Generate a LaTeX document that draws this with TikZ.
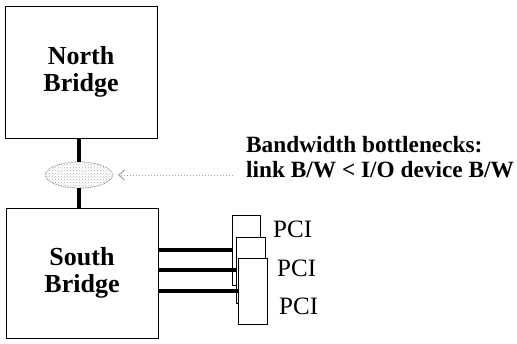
\documentclass[tikz,border=0pt]{standalone}
\usepackage{fontspec}
\setmainfont{Liberation Serif}
\usetikzlibrary{positioning,shapes.geometric,arrows.meta,patterns}
\begin{document}
\begin{tikzpicture}[x=1pt, y=-1pt,
  bridge/.style={draw, rectangle, line width=1pt, minimum width=152pt, minimum height=132pt, align=center, font=\fontsize{26}{27}\selectfont\bfseries},
  bus/.style={line width=3.5pt},
  card/.style={draw, rectangle, fill=white, line width=0.8pt, minimum width=29pt, minimum height=66pt, inner sep=0pt},
  pcitext/.style={anchor=west, inner sep=0pt, font=\fontsize{25}{25}\selectfont}]
  \useasboundingbox (0,0) rectangle (517,343);
  \node[bridge] (nb) at (81,72) {North\\Bridge};
  \node[bridge, minimum height=130pt] (sb) at (82,273) {South\\Bridge};
  \node[ellipse, draw=gray, densely dotted, line width=0.8pt, pattern=crosshatch dots, pattern color=gray!60, minimum width=67pt, minimum height=26pt, inner sep=0pt] (link) at (79,175) {};
  \node[anchor=west, align=left, inner sep=0pt, font=\fontsize{23.3}{25}\selectfont\bfseries] (note) at (246,157.5) {Bandwidth bottlenecks:\\link B/W < I/O device B/W};

  \draw[bus] (nb.south -| link.north) -- (link.north);
  \draw[bus] (link.south) -- (link.south |- sb.north);
  \draw[gray!70, dotted, line width=1pt, shorten <=13pt, shorten >=5pt, -{Straight Barb[length=6pt, width=10pt]}] (note.west |- link.east) -- (link.east);

  % PCI cards
  \node[card, minimum width=28pt, minimum height=70pt] (card1) at (246,250) {};
  \node[card] (card2) at (250.5,270) {};
  \node[card] (card3) at (252.5,291) {};
  \node[pcitext] (pci1) at (273,229) {PCI};
  \node[pcitext] (pci2) at (277,268) {PCI};
  \node[pcitext] (pci3) at (279,306) {PCI};

  \draw[bus] (sb.east |- card1.west) -- (card1.west);
  \draw[bus] (sb.east |- card2.west) -- (card2.west);
  \draw[bus] (sb.east |- card3.west) -- (card3.west);
\end{tikzpicture}
\end{document}
